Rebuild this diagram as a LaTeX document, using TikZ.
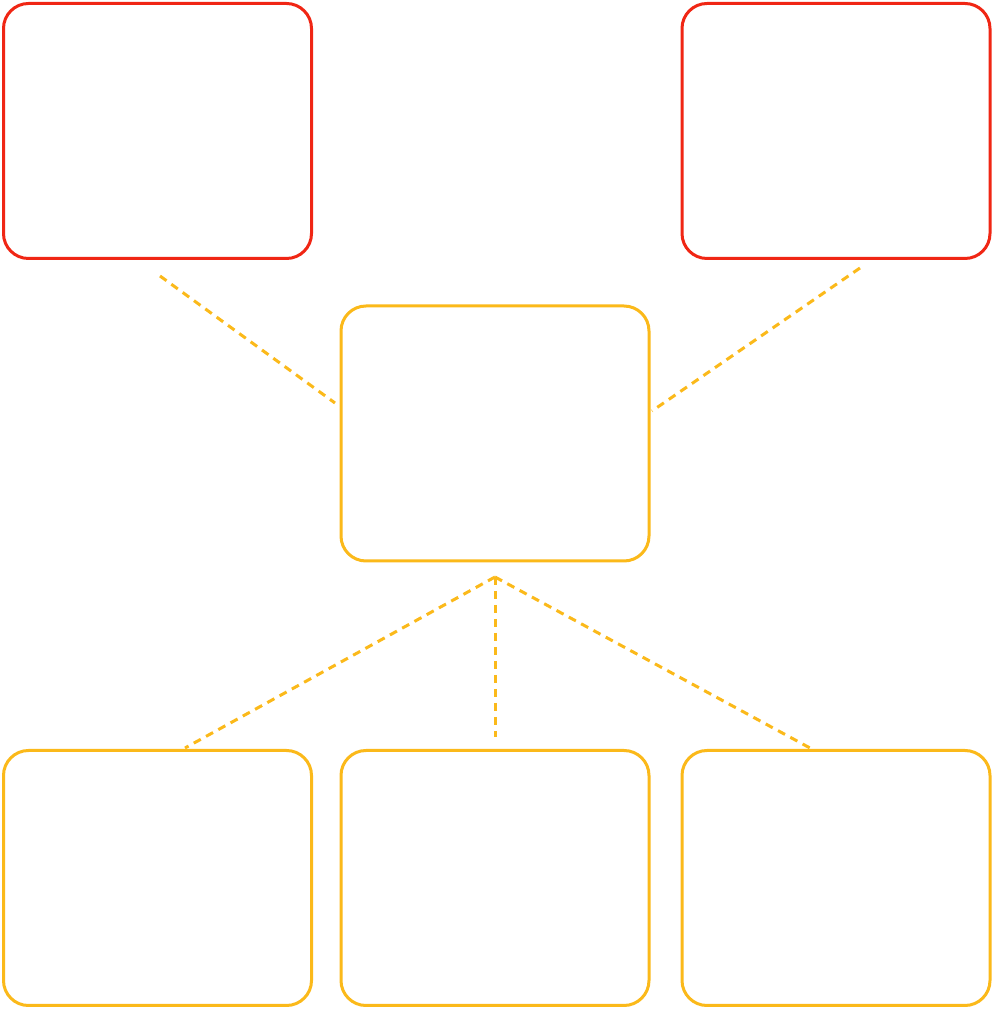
\documentclass[tikz,border=0pt]{standalone}
\definecolor{boxred}{RGB}{240,38,20}
\definecolor{boxyellow}{RGB}{251,185,26}
\tikzset{
  redbox/.style={draw=boxred, line width=3pt, rounded corners=25pt, minimum width=308pt, minimum height=255pt, inner sep=0pt, fill=white},
  yellowbox/.style={draw=boxyellow, line width=3pt, rounded corners=25pt, minimum width=308pt, minimum height=255pt, inner sep=0pt, fill=white},
  link/.style={draw=boxyellow, line width=3pt, dash pattern=on 8pt off 6pt}
}
\begin{document}
\begin{tikzpicture}[x=1pt,y=1pt]
\useasboundingbox (0,0) rectangle (994,1010);
% boxes (y measured from bottom: y = 1010 - ypx)
\node[redbox] (tl) at (157.5,879) {};
\node[redbox] (tr) at (836,879) {};
\node[yellowbox] (c) at (495,576.5) {};
\node[yellowbox] (bl) at (157.5,132) {};
\node[yellowbox] (bm) at (495,132) {};
\node[yellowbox] (br) at (836,132) {};
% connector end points
\coordinate (tlend) at (160,734);
\coordinate (cleft) at (335,607);
\coordinate (trend) at (860,742);
\coordinate (cright) at (652,599);
\coordinate (hub) at (495,433);
\coordinate (blend) at (185,262);
\coordinate (bmend) at (495,273);
\coordinate (brend) at (810,262);
\draw[link] (tlend) -- (cleft);
\draw[link] (trend) -- (cright);
\draw[link] (hub) -- (blend);
\draw[link] (hub) -- (bmend);
\draw[link] (hub) -- (brend);
\end{tikzpicture}
\end{document}
